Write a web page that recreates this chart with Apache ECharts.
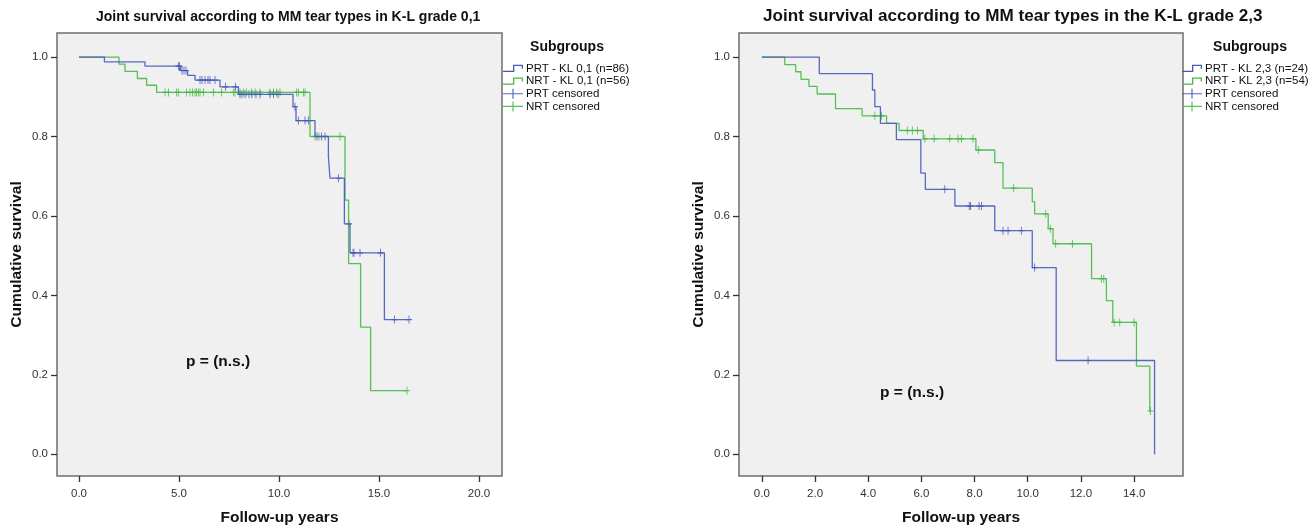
<!DOCTYPE html>
<html>
<head>
<meta charset="utf-8">
<script src="https://cdn.jsdelivr.net/npm/echarts@6/dist/echarts.min.js"></script>
<style>
  html, body { margin: 0; padding: 0; background: #fff; }
  #main { width: 1312px; height: 526px; }
</style>
</head>
<body>
<div id="main"></div>
<script>
// K-L grade 0,1 : steps of the survival curves (time in years, cumulative survival)
var prt01Time = [0, 1.27, 3.3, 5.08, 5.43, 5.8, 7.05, 7.97, 10.7, 10.85, 11.8, 12.47, 12.55, 13.27, 13.55, 15.27, 16.5];
var prt01Surv = [1, 0.988, 0.977, 0.966, 0.954, 0.942, 0.925, 0.906, 0.875, 0.84, 0.80, 0.75, 0.695, 0.58, 0.507, 0.339, 0.339];
var nrt01Time = [0, 2.0, 2.3, 2.92, 3.38, 3.88, 11.55, 13.3, 13.48, 14.08, 14.58, 16.4];
var nrt01Surv = [1, 0.982, 0.964, 0.946, 0.929, 0.911, 0.80, 0.64, 0.48, 0.32, 0.16, 0.16];
// censored cases
var prt01CensTime = [4.97, 5.02, 5.15, 5.25, 5.35, 6.05, 6.15, 6.3, 6.45, 6.55, 6.8, 7.33, 7.83, 8.05, 8.15, 8.3, 8.5, 8.65, 8.85, 9.05, 9.55, 9.72, 9.95, 10.8, 10.97, 11.3, 11.47, 11.9, 12.13, 12.3, 12.98, 13.5, 13.7, 13.75, 14.05, 15.08, 15.77, 16.5];
var prt01CensSurv = [0.977, 0.977, 0.966, 0.966, 0.966, 0.942, 0.942, 0.942, 0.942, 0.942, 0.942, 0.925, 0.925, 0.906, 0.906, 0.906, 0.906, 0.906, 0.906, 0.906, 0.906, 0.906, 0.906, 0.875, 0.84, 0.84, 0.84, 0.80, 0.80, 0.80, 0.695, 0.58, 0.507, 0.507, 0.507, 0.507, 0.339, 0.339];
var nrt01CensTime = [4.3, 4.47, 4.88, 4.97, 5.38, 5.55, 5.68, 5.8, 5.88, 5.97, 6.05, 6.22, 6.72, 7.13, 7.72, 7.8, 8.05, 8.22, 8.38, 8.63, 8.8, 9.05, 9.55, 9.72, 9.88, 10.05, 10.88, 10.97, 11.22, 11.3, 11.8, 12.0, 13.05, 16.4];
var nrt01CensSurv = [0.911, 0.911, 0.911, 0.911, 0.911, 0.911, 0.911, 0.911, 0.911, 0.911, 0.911, 0.911, 0.911, 0.911, 0.911, 0.911, 0.911, 0.911, 0.911, 0.911, 0.911, 0.911, 0.911, 0.911, 0.911, 0.911, 0.911, 0.911, 0.911, 0.911, 0.80, 0.80, 0.80, 0.16];

// K-L grade 2,3
var prt23Time = [0, 2.16, 4.16, 4.25, 4.46, 5.06, 5.98, 6.15, 7.26, 8.76, 10.17, 11.07, 14.77];
var prt23Surv = [1, 0.958, 0.917, 0.875, 0.833, 0.792, 0.708, 0.667, 0.625, 0.563, 0.47, 0.236, 0.0];
var nrt23Time = [0, 0.86, 1.27, 1.47, 1.77, 2.08, 2.77, 3.77, 4.69, 5.16, 6.07, 8.05, 8.76, 9.07, 10.17, 10.26, 10.77, 10.95, 12.4, 12.96, 13.2, 14.09, 14.59, 14.62];
var nrt23Surv = [1, 0.981, 0.963, 0.944, 0.926, 0.907, 0.870, 0.852, 0.833, 0.815, 0.794, 0.766, 0.734, 0.67, 0.636, 0.605, 0.568, 0.53, 0.442, 0.387, 0.332, 0.222, 0.109, 0.109];
var prt23CensTime = [6.88, 7.8, 7.85, 8.17, 8.26, 9.07, 9.26, 9.76, 10.26, 12.27];
var prt23CensSurv = [0.667, 0.625, 0.625, 0.625, 0.625, 0.563, 0.563, 0.563, 0.47, 0.236];
var nrt23CensTime = [4.25, 4.5, 5.47, 5.66, 5.85, 6.13, 6.48, 7.07, 7.38, 7.51, 7.94, 8.14, 9.47, 10.68, 10.85, 11.05, 11.68, 12.77, 12.86, 13.25, 13.46, 14.0, 14.62];
var nrt23CensSurv = [0.852, 0.852, 0.815, 0.815, 0.815, 0.794, 0.794, 0.794, 0.794, 0.794, 0.794, 0.766, 0.67, 0.605, 0.568, 0.53, 0.53, 0.442, 0.442, 0.332, 0.332, 0.332, 0.109];

// tick labels
var yTicks = [0, 0.2, 0.4, 0.6, 0.8, 1.0];
var xTicks01 = [0, 5, 10, 15, 20];
var xTicks23 = [0, 2, 4, 6, 8, 10, 12, 14];

var names01 = ['PRT - KL 0,1 (n=86)', 'NRT - KL 0,1 (n=56)', 'PRT censored', 'NRT censored'];
var names23 = ['PRT - KL 2,3 (n=24)', 'NRT - KL 2,3 (n=54)', 'PRT censored', 'NRT censored'];

var BLUE = '#4659bd';
var GREEN = '#45b945';
var FONT = '"Liberation Sans", Arial, sans-serif';
var stepIcon = 'path://M0,8H11.3V9.3H0Z M10,2H11.3V9.3H10Z M10,2H20V3.3H10Z M18.7,2H20V6H18.7Z';
var crossIcon = 'path://M0,4.4H20V5.6H0Z M9.4,0H10.6V10H9.4Z';
var censMark = 'path://M0,4.3H10V5.7H0Z M4.3,0H5.7V10H4.3Z';

function zip(xs, ys) {
  var out = [];
  for (var i = 0; i < xs.length; i++) {
    out.push([xs[i], ys[i]]);
  }
  return out;
}

function xAxis(idx, min, max, ticks) {
  return {
    gridIndex: idx, type: 'value', min: min, max: max,
    name: 'Follow-up years', nameLocation: 'middle', nameGap: 34, nameMoveOverlap: false,
    nameTextStyle: { fontFamily: FONT, fontWeight: 'bold', fontSize: 15.5, color: '#111' },
    axisLine: { show: false, onZero: false },
    axisTick: { show: true, customValues: ticks, length: 6, lineStyle: { color: '#333', width: 1.3 } },
    axisLabel: {
      customValues: ticks, margin: 12, fontFamily: FONT, fontSize: 11.5, color: '#333',
      formatter: function(v) { return v.toFixed(1); }
    },
    splitLine: { show: false }
  };
}

function yAxis(idx) {
  return {
    gridIndex: idx, type: 'value', min: -0.0547, max: 1.0605,
    name: 'Cumulative survival', nameLocation: 'middle', nameGap: 32, nameMoveOverlap: false,
    nameTextStyle: { fontFamily: FONT, fontWeight: 'bold', fontSize: 15.5, color: '#111' },
    axisLine: { show: false, onZero: false },
    axisTick: { show: true, customValues: yTicks, length: 6, lineStyle: { color: '#333', width: 1.3 } },
    axisLabel: {
      customValues: yTicks, margin: 9, fontFamily: FONT, fontSize: 11.5, color: '#333',
      formatter: function(v) { return v.toFixed(1); }
    },
    splitLine: { show: false }
  };
}

function curve(name, idx, data, color) {
  return {
    name: name, type: 'line', step: 'end', xAxisIndex: idx, yAxisIndex: idx,
    data: data, symbol: 'none', color: color,
    lineStyle: { color: color, width: 1.3, opacity: 0.9 },
    silent: true, animation: false
  };
}

function censored(name, idx, data, color) {
  return {
    name: name, type: 'scatter', xAxisIndex: idx, yAxisIndex: idx,
    data: data, symbol: censMark, symbolSize: [6, 8], color: color,
    itemStyle: { color: color, opacity: 0.9 },
    silent: true, animation: false
  };
}

function legend(left, names) {
  return {
    orient: 'vertical', left: left, top: 62, itemGap: 0, itemWidth: 20, itemHeight: 10,
    padding: 0, selectedMode: false,
    textStyle: { fontFamily: FONT, fontSize: 11.5, lineHeight: 12.7, color: '#111', padding: [0, 0, 0, -2] },
    itemStyle: { borderWidth: 0 },
    data: [
      { name: names[0], icon: stepIcon },
      { name: names[1], icon: stepIcon },
      { name: names[2], icon: crossIcon },
      { name: names[3], icon: crossIcon }
    ]
  };
}

var chart = echarts.init(document.getElementById('main'));

var option = {
  backgroundColor: '#fff',
  animation: false,
  title: [
    { text: 'Joint survival according to MM tear types in K-L grade 0,1', left: 96, top: 10, padding: 0,
      textStyle: { fontFamily: FONT, fontWeight: 'bold', fontSize: 14, color: '#111' } },
    { text: 'Joint survival according to MM tear types in the K-L grade 2,3', left: 763, top: 8, padding: 0,
      textStyle: { fontFamily: FONT, fontWeight: 'bold', fontSize: 17.1, color: '#111' } },
    { text: 'Subgroups', left: 567, top: 40, textAlign: 'center', padding: 0,
      textStyle: { fontFamily: FONT, fontWeight: 'bold', fontSize: 14, color: '#111' } },
    { text: 'Subgroups', left: 1250, top: 40, textAlign: 'center', padding: 0,
      textStyle: { fontFamily: FONT, fontWeight: 'bold', fontSize: 14, color: '#111' } }
  ],
  grid: [
    { left: 57, top: 33, width: 445, height: 443, show: true, backgroundColor: '#f0f0f0',
      borderColor: '#6e6e6e', borderWidth: 1.5, outerBoundsMode: 'none', containLabel: false },
    { left: 739, top: 33, width: 444, height: 443, show: true, backgroundColor: '#f0f0f0',
      borderColor: '#6e6e6e', borderWidth: 1.5, outerBoundsMode: 'none', containLabel: false }
  ],
  xAxis: [xAxis(0, -1.1, 21.15, xTicks01), xAxis(1, -0.86, 15.84, xTicks23)],
  yAxis: [yAxis(0), yAxis(1)],
  legend: [legend(503, names01), legend(1182, names23)],
  graphic: [
    { type: 'text', left: 186, top: 354, style: { text: 'p = (n.s.)', fontFamily: FONT, fontWeight: 'bold', fontSize: 15.5, fill: '#111' } },
    { type: 'text', left: 880, top: 385, style: { text: 'p = (n.s.)', fontFamily: FONT, fontWeight: 'bold', fontSize: 15.5, fill: '#111' } }
  ],
  series: [
    curve(names01[1], 0, zip(nrt01Time, nrt01Surv), GREEN),
    curve(names01[0], 0, zip(prt01Time, prt01Surv), BLUE),
    censored('NRT censored', 0, zip(nrt01CensTime, nrt01CensSurv), GREEN),
    censored('PRT censored', 0, zip(prt01CensTime, prt01CensSurv), BLUE),
    curve(names23[1], 1, zip(nrt23Time, nrt23Surv), GREEN),
    curve(names23[0], 1, zip(prt23Time, prt23Surv), BLUE),
    censored('NRT censored', 1, zip(nrt23CensTime, nrt23CensSurv), GREEN),
    censored('PRT censored', 1, zip(prt23CensTime, prt23CensSurv), BLUE)
  ]
};

chart.setOption(option);
</script>
</body>
</html>
